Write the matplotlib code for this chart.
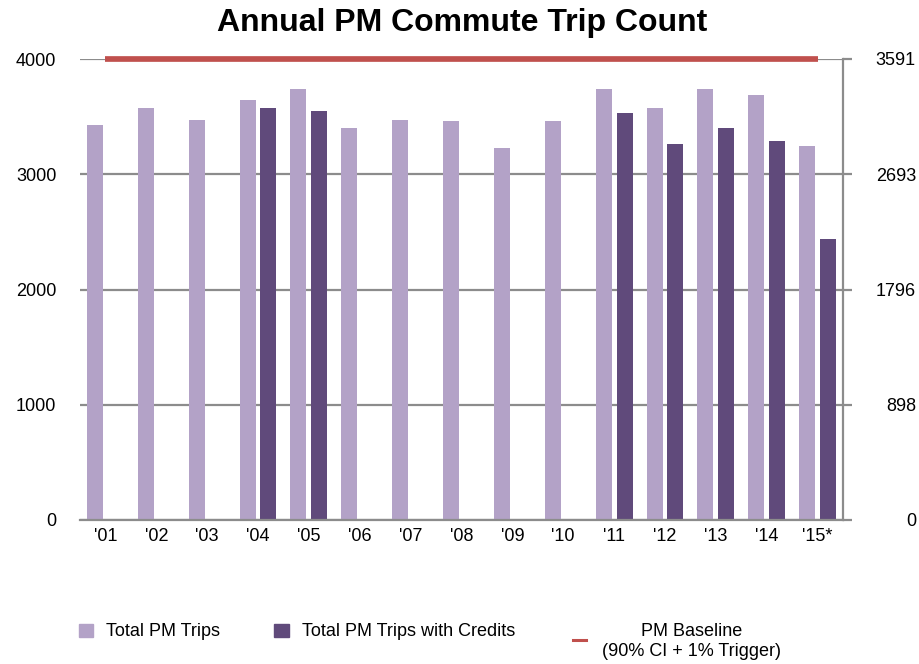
import matplotlib
matplotlib.use("Agg")
import matplotlib.pyplot as plt
from matplotlib.patches import Rectangle
from matplotlib.lines import Line2D
import numpy as np

plt.rcParams['font.family'] = ['Liberation Sans', 'DejaVu Sans']

years = ["'01", "'02", "'03", "'04", "'05", "'06", "'07", "'08", "'09", "'10",
         "'11", "'12", "'13", "'14", "'15*"]
total_trips = [3431, 3571, 3475, 3641, 3738, 3405, 3475, 3460, 3226, 3460,
               3738, 3571, 3738, 3685, 3248]
credit_trips = [np.nan, np.nan, np.nan, 3571, 3545, np.nan, np.nan, np.nan, np.nan, np.nan,
                3528, 3265, 3405, 3291, 2435]
baseline = 4000
left_ticks = [0, 1000, 2000, 3000, 4000]
right_max = 3591
right_labels = ['0', '898', '1796', '2693', '3591']

C_LIGHT = '#B3A2C7'
C_DARK = '#604A7B'
C_RED = '#C0504D'
C_GRID = '#8C8C8C'

W, H = 920, 664
fig = plt.figure(figsize=(W / 100, H / 100), dpi=100)

def fx(x):
    return x / W

def fy(y):
    return 1 - y / H

ax = fig.add_axes([fx(80), fy(520), fx(843) - fx(80), fy(59) - fy(520)])

x = np.arange(len(years))
bw = 0.315
off = 0.205
ax.bar(x - off, total_trips, width=bw, color=C_LIGHT, zorder=2)
ax.bar(x + off, credit_trips, width=bw, color=C_DARK, zorder=2)
ax.plot([x[0], x[-1]], [baseline, baseline], color=C_RED, lw=4.1,
        solid_capstyle='butt', zorder=5, clip_on=False)

ax.set_xlim(-0.5, len(years) - 0.5)
ax.set_ylim(0, 4000)
ax.set_yticks(left_ticks)
ax.set_yticklabels([str(t) for t in left_ticks])
ax.set_xticks(x)
ax.set_xticklabels(years)
ax.tick_params(axis='y', length=0, pad=17, labelsize=13, colors='black')
ax.tick_params(axis='x', length=0, pad=6, labelsize=13, colors='black')
ax.set_axisbelow(True)
ax.yaxis.grid(True, color=C_GRID, lw=1.6)
for s in ['left', 'top', 'right']:
    ax.spines[s].set_visible(False)
ax.spines['bottom'].set_color(C_GRID)
ax.spines['bottom'].set_linewidth(1.6)

ax2 = ax.twinx()
ax2.set_ylim(0, right_max)
ax2.set_yticks([right_max * i / 4 for i in range(5)])
ax2.set_yticklabels(right_labels)
ax2.tick_params(axis='y', direction='out', length=6.5, width=1.6, color=C_GRID,
                pad=46, labelsize=13, labelcolor='black')
for lab in ax2.get_yticklabels():
    lab.set_horizontalalignment('right')
for s in ['left', 'top', 'bottom']:
    ax2.spines[s].set_visible(False)
ax2.spines['right'].set_color(C_GRID)
ax2.spines['right'].set_linewidth(1.6)

# Title
fig.text(fx(462), fy(31), 'Annual PM Commute Trip Count', ha='center', va='baseline',
         fontsize=23, fontweight='bold')

# Legend
fig.add_artist(Rectangle((fx(79), fy(637)), fx(14), fy(0) - fy(13), color=C_LIGHT,
                         transform=fig.transFigure))
fig.text(fx(106.5), fy(636), 'Total PM Trips', ha='left', va='baseline', fontsize=13)
fig.add_artist(Rectangle((fx(274), fy(637)), fx(15), fy(0) - fy(13), color=C_DARK,
                         transform=fig.transFigure))
fig.text(fx(301.5), fy(636), 'Total PM Trips with Credits', ha='left', va='baseline', fontsize=13)
fig.add_artist(Line2D([fx(573), fx(586)], [fy(640), fy(640)], color=C_RED, lw=2.2,
                      transform=fig.transFigure))
fig.text(fx(691.5), fy(636), 'PM Baseline', ha='center', va='baseline', fontsize=13)
fig.text(fx(691.5), fy(656), '(90% CI + 1% Trigger)', ha='center', va='baseline', fontsize=13)

fig.savefig('out.png', dpi=100)
